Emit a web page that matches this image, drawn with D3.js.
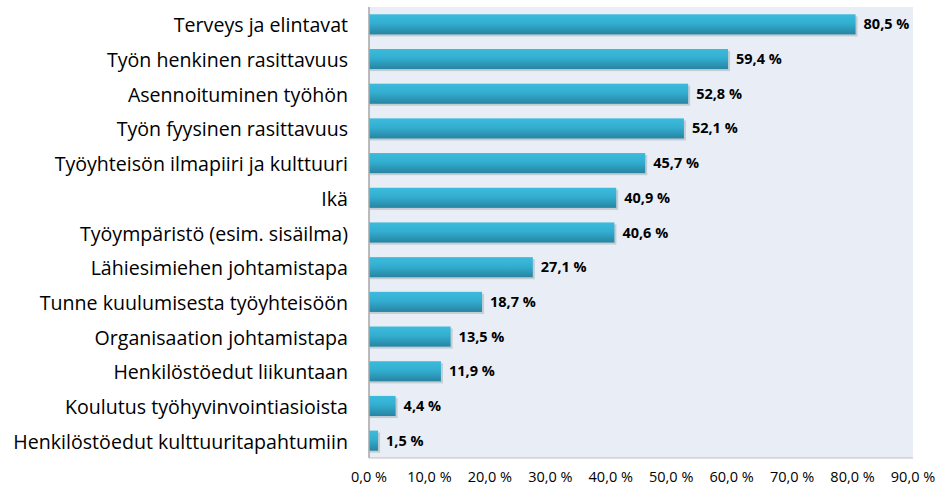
<!DOCTYPE html>
<html>
<head>
<meta charset="utf-8">
<script src="https://d3js.org/d3.v7.min.js"></script>
<style>
  body { margin: 0; background: #ffffff; }
</style>
</head>
<body>
<div id="chart"></div>
<script>
var categories = [
    "Terveys ja elintavat",
    "Työn henkinen rasittavuus",
    "Asennoituminen työhön",
    "Työn fyysinen rasittavuus",
    "Työyhteisön ilmapiiri ja kulttuuri",
    "Ikä",
    "Työympäristö (esim. sisäilma)",
    "Lähiesimiehen johtamistapa",
    "Tunne kuulumisesta työyhteisöön",
    "Organisaation johtamistapa",
    "Henkilöstöedut liikuntaan",
    "Koulutus työhyvinvointiasioista",
    "Henkilöstöedut kulttuuritapahtumiin"
];
var values = [80.5, 59.4, 52.8, 52.1, 45.7, 40.9, 40.6, 27.1, 18.7, 13.5, 11.9, 4.4, 1.5];
var ticks = [0, 10, 20, 30, 40, 50, 60, 70, 80, 90];

var width = 936, height = 487;
var plotLeft = 369, plotRight = 913, plotTop = 7, plotBottom = 458;

var fmt = function(v) { return v.toFixed(1).replace(".", ",") + " %"; };

var svg = d3.select("#chart").append("svg")
    .attr("width", width)
    .attr("height", height)
    .style("background-color", "white");

var defs = svg.append("defs");
var grad = defs.append("linearGradient")
    .attr("id", "barGrad")
    .attr("x1", 0).attr("y1", 0).attr("x2", 0).attr("y2", 1);
grad.append("stop").attr("offset", "0%").attr("stop-color", "#3cbbdd");
grad.append("stop").attr("offset", "45%").attr("stop-color", "#33aed0");
grad.append("stop").attr("offset", "100%").attr("stop-color", "#2784a2");

var x = d3.scaleLinear().domain([0, 90]).range([plotLeft, plotRight]);
var y = d3.scaleBand().domain(categories).range([plotTop, plotBottom]).paddingInner(0.42).paddingOuter(0.21);

// plot background
svg.append("rect")
    .attr("x", plotLeft)
    .attr("y", plotTop)
    .attr("width", plotRight - plotLeft)
    .attr("height", plotBottom - plotTop)
    .attr("fill", "#e9eef6");

// bar shadows
svg.append("g")
    .selectAll("rect")
    .data(values)
    .enter()
    .append("rect")
    .attr("x", x(0) + 1)
    .attr("y", function(d, i) { return y(categories[i]) + 2; })
    .attr("width", function(d) { return x(d) - x(0) + 1; })
    .attr("height", y.bandwidth())
    .attr("fill", "#9aa3ab")
    .attr("opacity", 0.45);

// bars
svg.append("g")
    .selectAll("rect")
    .data(values)
    .enter()
    .append("rect")
    .attr("x", x(0))
    .attr("y", function(d, i) { return y(categories[i]); })
    .attr("width", function(d) { return x(d) - x(0); })
    .attr("height", y.bandwidth())
    .attr("fill", "url(#barGrad)");

// axis lines
svg.append("line")
    .attr("x1", plotLeft).attr("y1", plotTop)
    .attr("x2", plotLeft).attr("y2", plotBottom)
    .style("stroke", "#a6a6a6").style("stroke-width", 1.5);
svg.append("line")
    .attr("x1", plotLeft).attr("y1", plotBottom)
    .attr("x2", plotRight).attr("y2", plotBottom)
    .style("stroke", "#bfbfbf").style("stroke-width", 1);

// category labels
svg.append("g")
    .selectAll("text")
    .data(categories)
    .enter()
    .append("text")
    .attr("x", 348)
    .attr("y", function(d) { return y(d) + y.bandwidth() / 2 + 8; })
    .style("text-anchor", "end")
    .style("font-family", "Open Sans")
    .style("font-size", "19.6px")
    .style("fill", "#000")
    .text(function(d) { return d; });

// value labels
svg.append("g")
    .selectAll("text")
    .data(values)
    .enter()
    .append("text")
    .attr("x", function(d) { return x(d) + 8; })
    .attr("y", function(d, i) { return y(categories[i]) + y.bandwidth() / 2 + 5; })
    .style("font-family", "Open Sans")
    .style("font-weight", "bold")
    .style("font-size", "14.5px")
    .style("fill", "#000")
    .text(fmt);

// tick labels
svg.append("g")
    .selectAll("text")
    .data(ticks)
    .enter()
    .append("text")
    .attr("x", function(d) { return x(d); })
    .attr("y", 482)
    .style("text-anchor", "middle")
    .style("font-family", "Open Sans")
    .style("font-size", "14.5px")
    .style("fill", "#000")
    .text(fmt);
</script>
</body>
</html>
